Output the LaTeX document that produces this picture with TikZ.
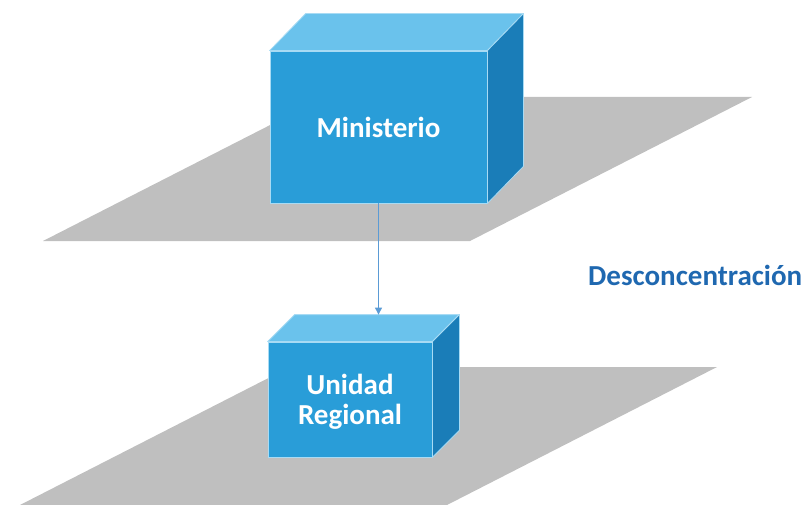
\documentclass[tikz,border=0pt]{standalone}
\usepackage{fontspec}
\setmainfont{Carlito}
\usetikzlibrary{arrows.meta,calc}
\definecolor{planegray}{HTML}{BFBFBF}
\definecolor{cubefront}{HTML}{299DD8}
\definecolor{cubetop}{HTML}{6AC2EC}
\definecolor{cubeside}{HTML}{1A7DB8}
\definecolor{cubeedge}{HTML}{A8DBF4}
\definecolor{linkblue}{HTML}{5B9BD5}
\definecolor{labelblue}{HTML}{1F68B0}
\begin{document}
\begin{tikzpicture}[x=1pt,y=-1pt,
  plane/.style={fill=planegray},
  frontface/.style={rectangle, fill=cubefront, draw=cubeedge, line width=0.8pt,
    text=white, font=\fontsize{29}{30}\selectfont\bfseries, align=center,
    inner sep=0pt, text depth=0pt},
  topface/.style={fill=cubetop, draw=cubeedge, line width=0.8pt, line join=round},
  sideface/.style={fill=cubeside, draw=cubeedge, line width=0.8pt, line join=round},
  link/.style={draw=linkblue, line width=1pt, -{Triangle[width=7pt,length=7pt]}},
  caption/.style={text=labelblue, font=\fontsize{29}{30}\selectfont\bfseries, inner sep=0pt}]

\useasboundingbox (0,0) rectangle (810,505);
\clip (0,0) rectangle (810,505);

% ground planes
\fill[plane] (43,241) -- (325,97) -- (752,97) -- (470,241) -- cycle;
\fill[plane] (20,505) -- (290,367) -- (717,367) -- (447,505) -- cycle;

% upper block
\node[frontface, minimum width=217pt, minimum height=152pt] (mini) at (378.5,127) {Ministerio};
\filldraw[topface] (mini.north west) -- ++(36,-37) -- ($(mini.north east)+(36,-37)$) -- (mini.north east) -- cycle;
\filldraw[sideface] (mini.north east) -- ++(36,-37) -- ($(mini.south east)+(36,-37)$) -- (mini.south east) -- cycle;

% lower block
\node[frontface, minimum width=164pt, minimum height=115pt] (unit) at (350,399.5) {Unidad\\Regional};
\filldraw[topface] (unit.north west) -- ++(27,-27) -- ($(unit.north east)+(27,-27)$) -- (unit.north east) -- cycle;
\filldraw[sideface] (unit.north east) -- ++(27,-27) -- ($(unit.south east)+(27,-27)$) -- (unit.south east) -- cycle;
\coordinate (unitback) at ($(unit.north)+(27,-27)$);

% link between levels
\draw[link] (mini.south) -- (mini.south |- unitback);

% label
\node[caption, anchor=base west] (desc) at (588,285) {Desconcentración};
\end{tikzpicture}
\end{document}
